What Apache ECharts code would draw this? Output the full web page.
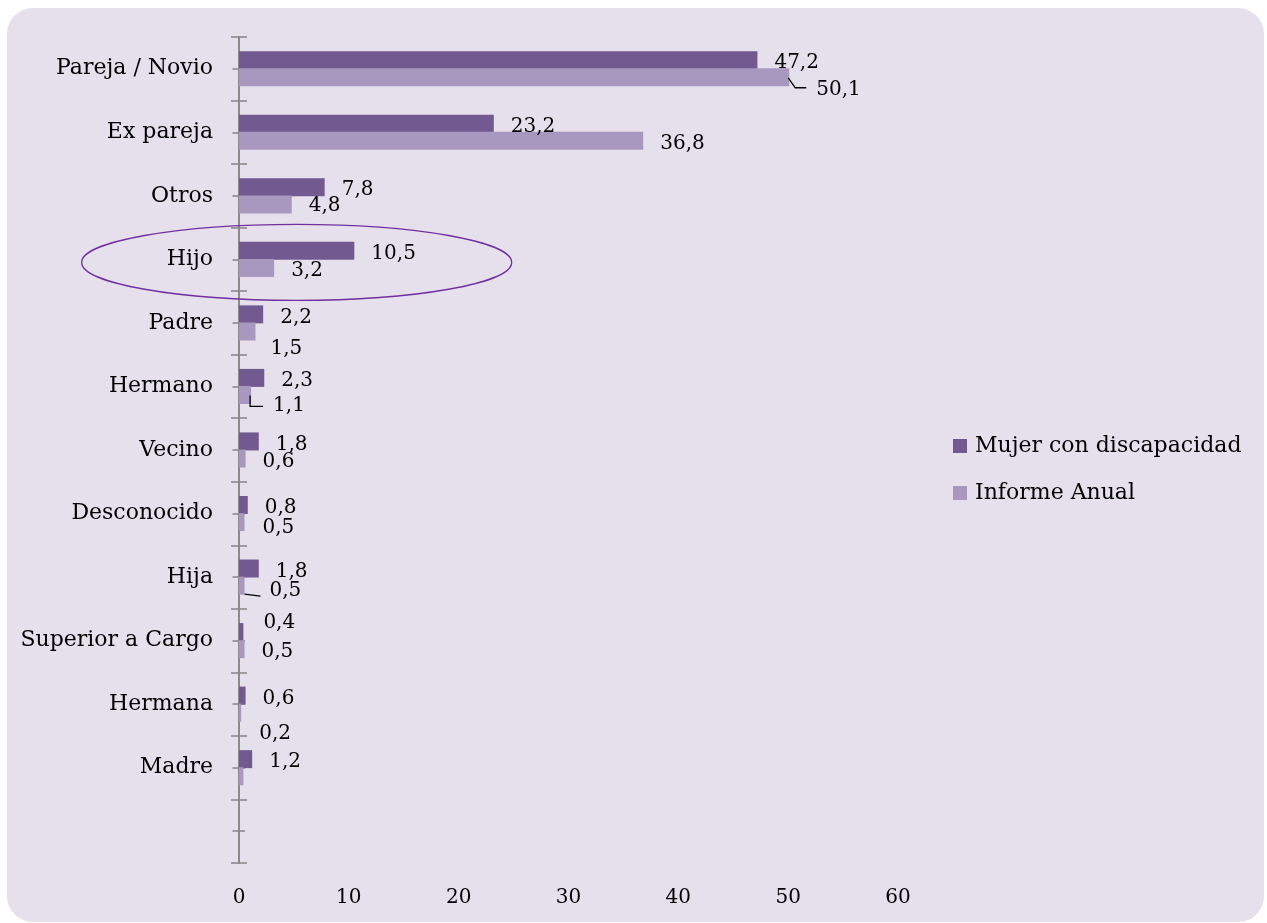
<!DOCTYPE html>
<html>
<head>
<meta charset="utf-8">
<script src="https://cdn.jsdelivr.net/npm/echarts@6/dist/echarts.min.js"></script>
<style>
  html, body { margin: 0; padding: 0; background: #ffffff; }
  #chart { width: 1267px; height: 923px; }
</style>
</head>
<body>
<div id="chart"></div>
<script>
// Agresor: porcentaje de casos por relación con la víctima
const categories = ['Pareja / Novio', 'Ex pareja', 'Otros', 'Hijo', 'Padre', 'Hermano',
  'Vecino', 'Desconocido', 'Hija', 'Superior a Cargo', 'Hermana', 'Madre'];
const mujerDiscapacidad = [47.2, 23.2, 7.8, 10.5, 2.2, 2.3, 1.8, 0.8, 1.8, 0.4, 0.6, 1.2];
const informeAnual = [50.1, 36.8, 4.8, 3.2, 1.5, 1.1, 0.6, 0.5, 0.5, 0.5, 0.2, 0.4];
const xTicks = [0, 10, 20, 30, 40, 50, 60];
const seriesNames = ['Mujer con discapacidad', 'Informe Anual'];

// label nudges [dx, dy] for crowded value labels
const mujerNudge = { 9: [3, -12] };
const informeNudge = { 0: [10, 9], 2: [0, -2], 4: [-2, 14], 5: [5, 8], 7: [1, 3], 8: [8, 2], 10: [1, 18] };
const informeHidden = { 11: true };

const FONT = 'DejaVu Serif';
const DARK = '#725A90';
const LIGHT = '#A898C0';
const axisGray = '#8A8A8A';

const fmt = v => v.toFixed(1).replace('.', ',');
const axisCats = categories.concat(['']);

function buildData(values, nudge, hidden) {
  return values.map((v, i) => {
    const n = nudge[i] || [0, 0];
    return {
      value: v,
      label: { offset: [n[0], 3 + n[1]], show: !hidden[i] }
    };
  });
}

const chart = echarts.init(document.getElementById('chart'));

function tickAxis(inside, align, len, showLine, showLabel) {
  return {
    type: 'category',
    data: axisCats,
    inverse: true,
    position: 'left',
    axisLine: { show: showLine, lineStyle: { color: axisGray, width: 2 } },
    axisTick: { show: true, inside: inside, alignWithLabel: align, length: len, interval: 0,
      lineStyle: { color: axisGray, width: 1.6 } },
    axisLabel: { show: showLabel, interval: 0, margin: 26, color: '#000',
      fontFamily: FONT, fontSize: 22, padding: [6, 0, 0, 0] },
    splitLine: { show: false }
  };
}

const option = {
  animation: false,
  textStyle: { fontFamily: FONT },
  grid: { left: 239, right: 369, top: 37, bottom: 60, containLabel: false },
  legend: {
    orient: 'vertical',
    left: 948,
    top: 430,
    itemWidth: 14,
    itemHeight: 14,
    itemGap: 25,
    icon: 'rect',
    textStyle: { fontFamily: FONT, fontSize: 22, color: '#000', lineHeight: 22, padding: [0, 0, 0, 3] },
    data: seriesNames
  },
  xAxis: {
    type: 'value',
    min: xTicks[0],
    max: xTicks[xTicks.length - 1],
    interval: 10,
    axisLine: { show: false },
    axisTick: { show: false },
    splitLine: { show: false },
    axisLabel: { color: '#000', fontFamily: FONT, fontSize: 20, margin: 25 }
  },
  yAxis: [
    tickAxis(false, false, 8, true, true),
    tickAxis(true, false, 8, false, false),
    tickAxis(false, true, 6.5, false, false),
    tickAxis(true, true, 6, false, false)
  ],
  series: [
    {
      name: seriesNames[0],
      type: 'bar',
      yAxisIndex: 0,
      barWidth: 18,
      barGap: '-5%',
      itemStyle: { color: DARK },
      label: { show: true, position: 'right', distance: 17, color: '#000',
        fontFamily: FONT, fontSize: 20, formatter: p => fmt(p.value) },
      data: buildData(mujerDiscapacidad, mujerNudge, {})
    },
    {
      name: seriesNames[1],
      type: 'bar',
      yAxisIndex: 0,
      barWidth: 18,
      barGap: '-5%',
      itemStyle: { color: LIGHT },
      label: { show: true, position: 'right', distance: 17, color: '#000',
        fontFamily: FONT, fontSize: 20, formatter: p => fmt(p.value) },
      data: buildData(informeAnual, informeNudge, informeHidden)
    }
  ]
};

chart.setOption(option);

// panel background, highlight ellipse and leader lines, placed from the axes
const px = (v, cat) => chart.convertToPixel({ xAxisIndex: 0, yAxisIndex: 0 }, [v, cat]);

const hijoZero = px(0, 'Hijo');
const hijoEnd = px(mujerDiscapacidad[3], 'Hijo');

const pEnd = px(informeAnual[0], categories[0]);
const hEnd = px(informeAnual[5], categories[5]);
const hjEnd = px(informeAnual[8], categories[8]);

const leader = (pts) => ({
  type: 'polyline', z: 10, silent: true,
  shape: { points: pts },
  style: { stroke: '#000', lineWidth: 1.3, fill: null }
});

chart.setOption({
  graphic: [
    {
      type: 'rect', z: -10, silent: true,
      shape: { x: 7, y: 8, width: 1257, height: 914, r: 26 },
      style: { fill: '#E5E0EC' }
    },
    {
      type: 'ellipse', z: 10, silent: true,
      shape: { cx: (hijoZero[0] + hijoEnd[0]) / 2, cy: hijoZero[1] + 3, rx: 215, ry: 38 },
      style: { stroke: '#7030A0', lineWidth: 1.3, fill: null }
    },
    leader([[pEnd[0] - 1, pEnd[1] + 9], [pEnd[0] + 6, pEnd[1] + 19], [pEnd[0] + 17, pEnd[1] + 19]]),
    leader([[hEnd[0] - 1, hEnd[1] + 9], [hEnd[0] - 1, hEnd[1] + 20], [hEnd[0] + 12, hEnd[1] + 20]]),
    leader([[hjEnd[0], hjEnd[1] + 17], [hjEnd[0] + 16, hjEnd[1] + 19]])
  ]
});
</script>
</body>
</html>
